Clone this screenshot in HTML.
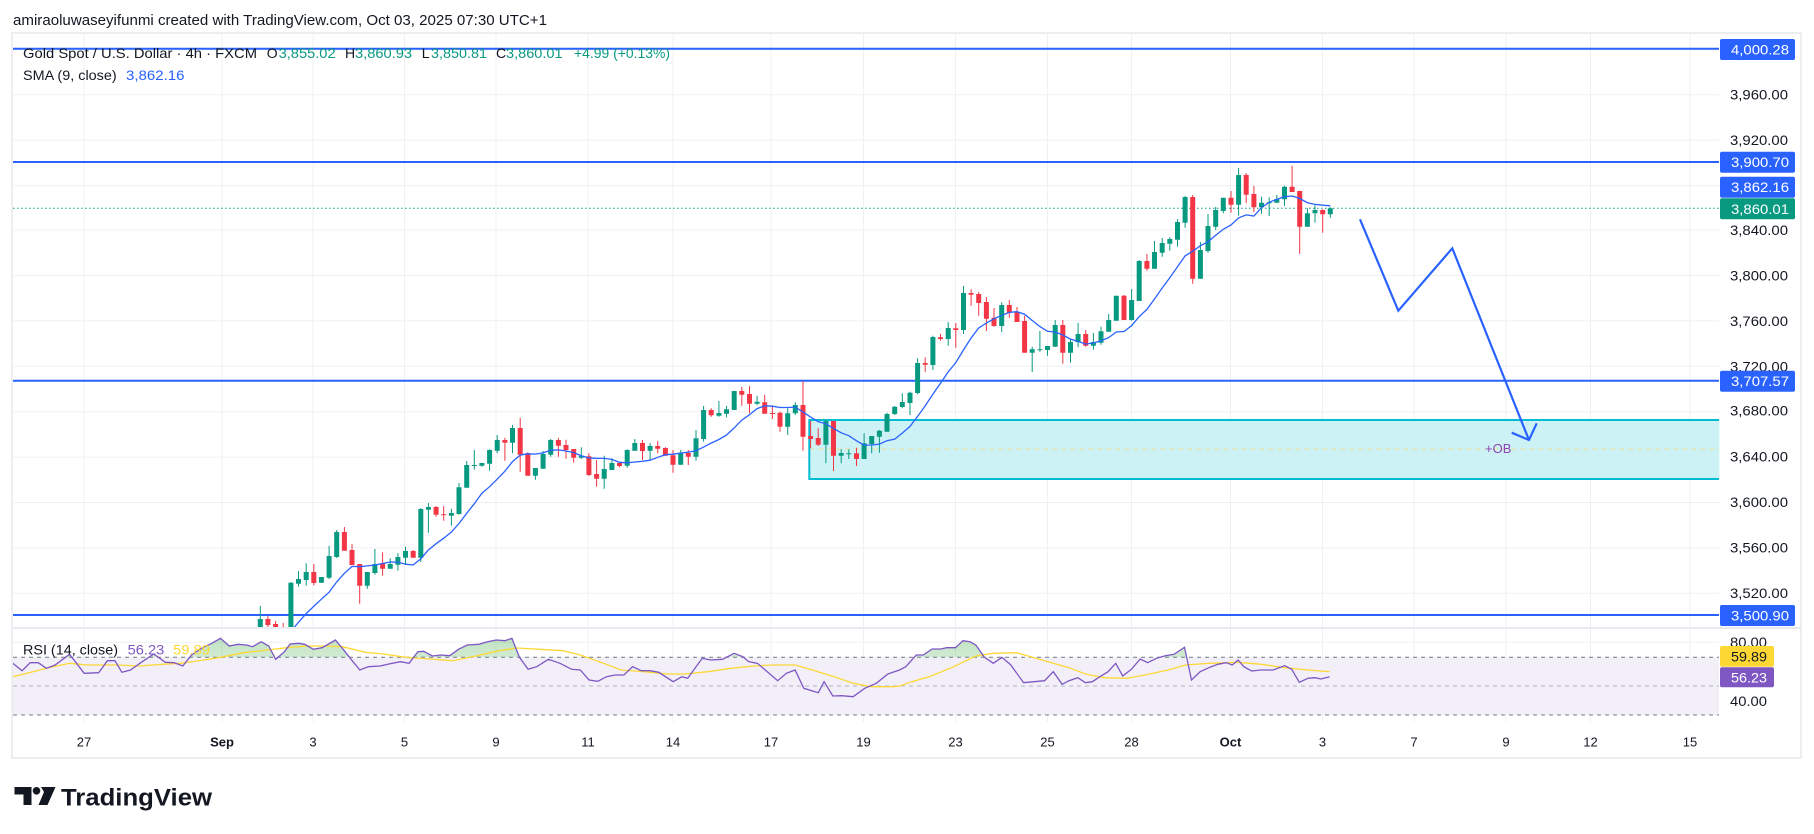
<!DOCTYPE html>
<html>
<head>
<meta charset="utf-8">
<style>
html,body{margin:0;padding:0;background:#fff;}
svg{display:block;}
text{font-family:"Liberation Sans",Arial,sans-serif;}
</style>
</head>
<body>
<svg xmlns="http://www.w3.org/2000/svg" width="1814" height="834" viewBox="0 0 1814 834">
<defs>
<clipPath id="pclip"><rect x="13" y="34" width="1706" height="593"/></clipPath>
<clipPath id="rclip"><rect x="13" y="629" width="1706" height="93"/></clipPath>
<clipPath id="gclip"><rect x="13" y="629" width="1706" height="28.3"/></clipPath>
<linearGradient id="gfill" x1="0" y1="0" x2="0" y2="1">
<stop offset="0" stop-color="#4caf50" stop-opacity="0.35"/>
<stop offset="1" stop-color="#4caf50" stop-opacity="0.06"/>
</linearGradient>
</defs>
<rect width="1814" height="834" fill="#fff"/>

<text x="13" y="25" font-size="15" fill="#131722" textLength="534" lengthAdjust="spacingAndGlyphs">amiraoluwaseyifunmi created with TradingView.com, Oct 03, 2025 07:30 UTC+1</text>

<rect x="12" y="33" width="1789" height="725" fill="none" stroke="#eceef2" stroke-width="2"/>
<line x1="13" y1="628" x2="1801" y2="628" stroke="#e0e3eb" stroke-width="1.5"/>

<!-- horizontal grid -->
<g stroke="#eef0f4" stroke-width="1">
<line x1="13" x2="1719" y1="49.7" y2="49.7"/>
<line x1="13" x2="1719" y1="94.8" y2="94.8"/>
<line x1="13" x2="1719" y1="140.2" y2="140.2"/>
<line x1="13" x2="1719" y1="185.6" y2="185.6"/>
<line x1="13" x2="1719" y1="230" y2="230"/>
<line x1="13" x2="1719" y1="275.4" y2="275.4"/>
<line x1="13" x2="1719" y1="320.8" y2="320.8"/>
<line x1="13" x2="1719" y1="366.2" y2="366.2"/>
<line x1="13" x2="1719" y1="411.7" y2="411.7"/>
<line x1="13" x2="1719" y1="457.1" y2="457.1"/>
<line x1="13" x2="1719" y1="502.5" y2="502.5"/>
<line x1="13" x2="1719" y1="547.9" y2="547.9"/>
<line x1="13" x2="1719" y1="593.3" y2="593.3"/>
<line x1="13" x2="1719" y1="642.3" y2="642.3"/>
<line x1="13" x2="1719" y1="701" y2="701"/>
</g>
<!-- vertical grid -->
<path stroke="#eef0f4" stroke-width="1" fill="none" d="M84 34V627M84 629V722M222 34V627M222 629V722M313 34V627M313 629V722M404.5 34V627M404.5 629V722M496 34V627M496 629V722M588 34V627M588 629V722M673 34V627M673 629V722M771 34V627M771 629V722M863.5 34V627M863.5 629V722M955.5 34V627M955.5 629V722M1047.5 34V627M1047.5 629V722M1131.5 34V627M1131.5 629V722M1230.5 34V627M1230.5 629V722M1322.5 34V627M1322.5 629V722M1414 34V627M1414 629V722M1506 34V627M1506 629V722M1590.5 34V627M1590.5 629V722M1690 34V627M1690 629V722"/>

<!-- OB box -->
<rect x="809.3" y="420" width="910" height="59" fill="#ccf2f6"/>
<line x1="809.3" x2="1719" y1="449" y2="449" stroke="#ece39a" stroke-width="1" stroke-dasharray="5,4"/>
<path d="M1719 420 H809.3 V479 H1719" fill="none" stroke="#00bcd4" stroke-width="2"/>
<text x="1485" y="453" font-size="13" fill="#8e44ad">+OB</text>

<!-- level lines -->
<g stroke="#2962ff" stroke-width="2">
<line x1="13" x2="1719" y1="48.7" y2="48.7"/>
<line x1="13" x2="1719" y1="162" y2="162"/>
<line x1="13" x2="1719" y1="380.7" y2="380.7"/>
<line x1="13" x2="1719" y1="615" y2="615"/>
</g>
<line x1="13" x2="1719" y1="208.3" y2="208.3" stroke="#089981" stroke-width="1" stroke-dasharray="1.5,2.5"/>

<!-- candles -->
<g clip-path="url(#pclip)">
<path fill="none" stroke="#089981" stroke-width="1" d="M260.3 606V635M290.9 582V640M298.5 571V586.7M306.2 563.3V585.7M321.4 577V583M329.1 545.7V579M336.7 530V558M367.3 572V588.7M374.9 549V574.7M390.2 558.3V568.7M397.9 553.3V570.7M405.5 546.7V563.7M420.8 508V562M428.4 503V532.7M451.4 508.7V525.7M459 483V514.7M466.7 461V487.7M474.3 450V469.7M481.9 463V466.7M489.6 449.3V470.7M497.2 435V453.3M512.5 425V453.3M535.4 468V479.7M543.1 451V468.7M550.7 439V456.7M581.3 447.3V459M604.2 455.7V488.7M611.9 458.3V470M627.2 449.3V467.7M634.8 439V450.7M650.1 443V460M680.7 450V464.7M696 430V460.7M703.6 406V441.7M718.9 401V416.7M726.5 406V417.3M734.2 391V410M757.1 395.7V405M787.7 408.3V435M795.3 402.3V415M825.9 420V463.3M841.2 449.3V463.3M848.8 449.3V459M864.1 433.3V459M871.7 436V453.3M879.4 430V452.7M887 412.7V431.7M894.7 406V415M902.3 393.3V408.3M910 391.7V415M917.6 358.3V394.3M932.9 335.7V370M948.2 322V345.7M963.5 286V334M1001.7 302.3V332M1032.2 346.7V372M1039.9 331V351.7M1047.5 346V355.7M1055.2 320V346.7M1070.5 338.7V362.7M1078.1 323V347.3M1093.4 333V349.7M1101 326.7V344.7M1108.7 314V331.7M1116.3 295.7V320.7M1131.6 289V320.7M1139.2 260V301M1154.5 241V268.7M1162.2 238V256.7M1169.8 237.3V250.7M1177.5 219.3V246.7M1185.1 196V227.7M1200.4 242V278.7M1208 214V252.7M1215.7 207V230M1223.3 197.7V213.3M1238.6 168V215.7M1261.5 196.7V213.7M1269.2 197.3V216M1276.8 195V202.7M1284.5 185.7V206M1307.4 208.3V226.7M1315 205.3V222.7M1330.3 207.3V217.7"/>
<path fill="#089981" d="M257.8 619h5v11h-5zM288.4 582.7h5v57.3h-5zM296 579h5v4.7h-5zM303.7 572h5v8h-5zM318.9 577h5v5.7h-5zM326.6 556h5v21.7h-5zM334.2 532h5v25h-5zM364.8 572h5v13.7h-5zM372.4 564h5v9h-5zM387.7 564h5v4.7h-5zM395.4 557h5v7.7h-5zM403 551h5v6.7h-5zM418.3 509h5v48.7h-5zM425.9 507h5v2.7h-5zM448.9 513h5v2.7h-5zM456.5 487.3h5v26.7h-5zM464.2 465h5v22.7h-5zM471.8 465h5v1h-5zM479.4 463h5v2.7h-5zM487.1 450h5v13.7h-5zM494.7 440h5v10.7h-5zM510 428h5v14.7h-5zM532.9 468h5v7.7h-5zM540.6 454h5v14.7h-5zM548.2 440h5v14.7h-5zM578.8 455.7h5v2h-5zM601.7 469h5v9.7h-5zM609.4 463h5v7h-5zM624.7 450h5v15.7h-5zM632.3 443h5v7.7h-5zM647.6 446h5v4.7h-5zM678.2 452.7h5v12h-5zM693.5 438.3h5v18.4h-5zM701.1 410h5v29h-5zM716.4 413h5v2.7h-5zM724 409.3h5v4.4h-5zM731.7 391h5v19h-5zM754.6 401.7h5v2h-5zM785.2 413.3h5v13.4h-5zM792.8 405h5v8.3h-5zM823.4 421h5v23.7h-5zM838.7 453h5v2.7h-5zM846.3 453.3h5v1h-5zM861.6 443.3h5v15.7h-5zM869.2 436h5v8h-5zM876.9 430.7h5v6h-5zM884.5 414h5v17.7h-5zM892.2 406.7h5v7.3h-5zM899.8 402h5v5h-5zM907.5 392.7h5v10.3h-5zM915.1 363h5v30h-5zM930.4 337h5v28h-5zM945.7 328h5v11h-5zM961 293h5v37h-5zM999.2 305h5v21h-5zM1029.7 349.3h5v3.4h-5zM1037.4 349.3h5v1h-5zM1045 346h5v4h-5zM1052.7 325h5v21.7h-5zM1068 342h5v10.7h-5zM1075.6 334h5v8.3h-5zM1090.9 342h5v3.7h-5zM1098.5 331.3h5v11.4h-5zM1106.2 320h5v11.7h-5zM1113.8 295.7h5v25h-5zM1129.1 300h5v20h-5zM1136.7 261h5v40h-5zM1152 252h5v16.7h-5zM1159.7 243h5v9.7h-5zM1167.3 239h5v4.7h-5zM1175 222h5v17.7h-5zM1182.6 197h5v25.7h-5zM1197.9 250h5v28.7h-5zM1205.5 226h5v25h-5zM1213.2 210h5v16.7h-5zM1220.8 197.7h5v13.3h-5zM1236.1 175h5v29.7h-5zM1259 202.7h5v4.6h-5zM1266.7 202.3h5v1h-5zM1274.3 199h5v3.7h-5zM1282 186.7h5v12.6h-5zM1304.9 213.3h5v13.4h-5zM1312.5 210h5v3.3h-5zM1327.8 208.3h5v6h-5z"/>
<path fill="none" stroke="#f23645" stroke-width="1" d="M267.9 616V627M275.6 621V630M283.2 623V630M313.8 564V585.3M344.4 527V550.7M352 544V565M359.7 564V603.7M382.6 552.3V575.7M413.2 550V557.7M436.1 506V516.7M443.7 506V520.7M504.9 437.7V460.7M520.2 417.7V471.7M527.8 452.3V475.7M558.4 437.7V456.7M566 439.7V458.7M573.7 449V462.7M588.9 453.3V476M596.6 460V486.7M619.5 462.3V467.3M642.5 440V460M657.7 440.7V453.3M665.4 447.3V455.7M673 450V472.7M688.3 450V465M711.2 408.3V416.7M741.8 386.7V405.7M749.5 386V413.3M764.7 394.7V413.7M772.4 405.3V419M780 411.7V431.7M803 381V450.7M810.6 421V448.3M818.2 428.3V446M833.5 421V471M856.5 447.7V466M925.2 357.3V372M940.5 334V340.7M955.8 323V347.7M971.1 289.3V305.7M978.7 292V315.7M986.4 297V331M994 308V326.7M1009.3 300V317.7M1017 307V322M1024.6 315.7V352.7M1062.8 320V363.7M1085.7 330V346.7M1124 295V320M1146.9 254V270.7M1192.7 195V283.7M1231 191V212.7M1246.2 173V203.3M1253.9 186V212M1292.1 165.7V192M1299.7 190.7V254M1322.7 209.3V232.7"/>
<path fill="#f23645" d="M265.4 619h5v6h-5zM273.1 624h5v4h-5zM280.7 627h5v1h-5zM311.3 572h5v11h-5zM341.9 532h5v18.7h-5zM349.5 550h5v15h-5zM357.2 564h5v21.7h-5zM380.1 563.3h5v5.4h-5zM410.7 551h5v6.7h-5zM433.6 507h5v7.7h-5zM441.2 514.3h5v1h-5zM502.4 440h5v2.7h-5zM517.7 428h5v26.7h-5zM525.3 453.3h5v22.4h-5zM555.9 440h5v5.7h-5zM563.5 445h5v5h-5zM571.2 449h5v8.7h-5zM586.4 456.3h5v18.7h-5zM594.1 474h5v4.7h-5zM617 463h5v3h-5zM640 443h5v8h-5zM655.2 446h5v2.7h-5zM662.9 448h5v7.7h-5zM670.5 455.3h5v9.4h-5zM685.8 453h5v3.7h-5zM708.7 410h5v5.3h-5zM739.3 391h5v3.7h-5zM747 394h5v9.7h-5zM762.2 402.3h5v11.4h-5zM769.9 413h5v1h-5zM777.5 412.7h5v14h-5zM800.5 405h5v31.7h-5zM808.1 436h5v3h-5zM815.7 438h5v6.7h-5zM831 421h5v34.7h-5zM854 453.3h5v5.7h-5zM922.7 363h5v1.7h-5zM938 337.3h5v1.7h-5zM953.3 328.3h5v1.7h-5zM968.6 293h5v1.7h-5zM976.2 294h5v9h-5zM983.9 302h5v16.7h-5zM991.5 317.7h5v8.3h-5zM1006.8 305h5v8h-5zM1014.5 312h5v10h-5zM1022.1 321h5v31.7h-5zM1060.3 325h5v27.7h-5zM1083.2 334h5v11.7h-5zM1121.5 295.7h5v24.3h-5zM1144.4 261h5v7.7h-5zM1190.2 197h5v81.7h-5zM1228.5 197.7h5v7h-5zM1243.7 175h5v19.7h-5zM1251.4 194h5v13.3h-5zM1289.6 186.7h5v5.3h-5zM1297.2 191h5v35.7h-5zM1320.2 210h5v4.3h-5z"/>
<!-- SMA -->
<path fill="none" stroke="#2962ff" stroke-width="1.3" d="M293.3 628.3L306.7 613L321.4 599.2L329.1 592.2L336.7 581.9L344.4 573.3L352 566.4L359.7 566.7L367.3 565.9L374.9 565L382.6 563.5L390.2 562L397.9 562.1L405.5 564.2L413.2 565L420.8 558.8L428.4 550L436.1 543.7L443.7 538.2L451.4 532L459 523.5L466.7 513.3L474.3 503.7L481.9 493.2L489.6 486.7L497.2 479.2L504.9 471.2L512.5 461.6L520.2 455.1L527.8 453.8L535.4 454.1L543.1 452.9L550.7 450.3L558.4 449.9L566 451L573.7 452.6L581.3 455.7L588.9 458L596.6 458.3L604.2 458.4L611.9 459.4L619.5 462.3L627.2 462.8L634.8 462L642.5 461.3L650.1 460.2L657.7 457.3L665.4 454.7L673 454.2L680.7 453.1L688.3 452.1L696 450.8L703.6 447.1L711.2 443.1L718.9 439.5L726.5 435.1L734.2 427.9L741.8 420.1L749.5 414.7L757.1 408.6L764.7 405.8L772.4 406.2L780 407.5L787.7 407.5L795.3 407.1L803 412.1L810.6 417.1L818.2 421.6L825.9 423.8L833.5 428.4L841.2 432.8L848.8 435.7L856.5 440.8L864.1 445.1L871.7 445L879.4 444.1L887 440.7L894.7 439.1L902.3 433.1L910 426.4L917.6 416.4L925.2 405.9L932.9 394.1L940.5 383.3L948.2 371.9L955.8 362.6L963.5 349.9L971.1 338L978.7 328L986.4 323.1L994 318.8L1001.7 315.3L1009.3 312.4L1017 311.7L1024.6 314.2L1032.2 320.5L1039.9 326.6L1047.5 331.3L1055.2 332L1062.8 335L1070.5 339.1L1078.1 341.4L1085.7 344.1L1093.4 342.9L1101 340.9L1108.7 337.6L1116.3 332L1124 331.5L1131.6 325.6L1139.2 316.6L1146.9 309.4L1154.5 299L1162.2 288L1169.8 277.7L1177.5 266.8L1185.1 255.9L1192.7 251.3L1200.4 245.7L1208 241.8L1215.7 235.3L1223.3 229.3L1231 225L1238.6 217.9L1246.2 214.9L1253.9 216L1261.5 207.6L1269.2 202.3L1276.8 199.3L1284.5 196.7L1292.1 196L1299.7 198.5L1307.4 202.7L1315 204.4L1322.7 205.2L1330.3 205.8"/>
</g>

<!-- arrow -->
<polyline points="1360,219.3 1398.3,310.7 1452.3,248.3 1529,440" fill="none" stroke="#2962ff" stroke-width="2.2" stroke-linejoin="miter"/>
<polyline points="1511.7,432.7 1529,440 1536.7,423.3" fill="none" stroke="#2962ff" stroke-width="2.2"/>

<!-- RSI pane -->
<rect x="13" y="657.3" width="1706" height="57.7" fill="#f2eff9"/>
<line x1="13" x2="1719" y1="657.3" y2="657.3" stroke="#787b86" stroke-width="1" stroke-dasharray="4,4"/>
<line x1="13" x2="1719" y1="686" y2="686" stroke="#b2b5be" stroke-width="1" stroke-dasharray="4,4"/>
<line x1="13" x2="1719" y1="715" y2="715" stroke="#787b86" stroke-width="1" stroke-dasharray="4,4"/>
<path clip-path="url(#gclip)" fill="url(#gfill)" d="M12.8 663.3L22.1 670.7L30.2 662.7L38.3 662.7L46.4 668.3L55.1 665L69.6 654.3L84.2 673.3L98.7 672.7L107.4 660.7L114.9 660.7L121.9 672.3L130.6 670L142.2 661.7L153.8 654L165.4 662.3L174.1 662.7L182.8 666L191.5 655L203.1 647.3L211.8 643.3L220.5 638.3L229.2 646L237.9 644.3L246.6 645L252.5 646.7L261.2 641.7L268.7 646L275.7 659.3L284.4 651.7L290.2 644L298.9 643.3L304.7 644.3L313.4 649.3L322.1 647.7L335.4 640L342.4 648.3L351.1 659.3L359.8 670L368.5 666.7L380.1 666L388.8 664L400.4 661.7L409.1 663.3L417.9 651.7L423.7 651.3L432.4 656L441.1 655L449.8 655.7L458.5 649.3L467.2 645L478.8 644.3L487.5 641.7L496.2 640L504.9 640.7L511.9 638.3L519.4 657.3L528.1 669.3L536.8 666.7L548.4 659.3L560 663.3L571.6 669.3L580.3 670L589.1 680L597.8 681.3L606.5 676.7L615.2 675L623.9 675L632.6 666.7L641.3 670.7L650 670.7L658.7 672.3L673.2 681.7L681.9 676.7L687.7 678.3L702.2 658.3L710.9 660L722.5 659.3L734.1 653.3L742.8 656.7L748.7 661.7L757.4 663.3L766.1 670.7L777.7 680.7L786.4 673.3L795.1 670L803.8 688.3L818.3 692.7L824.1 681.7L832.8 696L841.5 695.7L853.1 696.7L864.7 688.3L876.3 683.3L887.9 674L899.5 670L905.8 666.7L916.3 655L923.3 655L932.1 649L940.8 649L946.6 647.7L955.4 647.7L963 640.7L970 641.7L975.8 645L984.5 657.3L993.3 663.3L1002 657.3L1010.8 665L1023.6 682.7L1034.1 681.7L1044.6 680.7L1053.3 671.7L1062.1 684.3L1069 680.7L1077.8 677.7L1085.4 682.7L1092.4 681.7L1099.9 676.7L1108.1 671.7L1115.7 663.3L1122.7 676L1131.4 669.3L1140.2 659L1147.7 662.7L1156.5 658.3L1165.2 655.7L1174 654.3L1184.5 647.3L1191.5 680L1200.2 671.7L1208.9 667.7L1217.7 664.3L1226.4 662.7L1232.3 665L1238.1 660L1243.9 666.7L1251.5 671L1261.4 670L1273.1 670L1284.7 665.7L1291.7 669.3L1299.3 682.3L1308 678.3L1315 677.7L1320.9 679L1329.6 676.7L1329.6 657.3L12.8 657.3Z"/>
<path clip-path="url(#rclip)" fill="none" stroke="#fdd835" stroke-width="1.3" d="M12.8 676.7L29 672.7L46.4 668.3L69.6 663.3L87.1 665L116.1 665L139.3 666L162.5 664.3L179.9 663.3L197.3 661L220.5 657.3L243.7 652.7L267 650L290.2 647.3L307.6 646L325 646L342.4 646.7L365.6 652.3L383 654L406.2 657.3L429.5 659L452.7 660.7L475.9 656L499.1 650.7L516.5 648L539.7 649.3L562.9 650.7L580.3 655L603.6 663.3L621 670L644.2 671.7L667.4 674L684.8 674L708 671.7L731.2 668.3L754.5 666L771.9 665L795.1 665L812.5 670L835.7 677.3L853.1 683.3L870.5 686.7L893.7 686.7L900 686L911.7 681.7L929.1 676.7L952.5 667.3L975.8 656L993.3 653.3L1016.6 652.7L1034.1 657.7L1051.6 662.7L1069 667.7L1086.5 674.3L1104 677.7L1127.3 678.3L1144.8 675L1168.1 670L1185.6 665L1208.9 663.3L1238.1 662.3L1261.4 664.3L1284.7 667.7L1308 670L1329.6 671.7"/>
<path clip-path="url(#rclip)" fill="none" stroke="#7e57c2" stroke-width="1.3" d="M12.8 663.3L22.1 670.7L30.2 662.7L38.3 662.7L46.4 668.3L55.1 665L69.6 654.3L84.2 673.3L98.7 672.7L107.4 660.7L114.9 660.7L121.9 672.3L130.6 670L142.2 661.7L153.8 654L165.4 662.3L174.1 662.7L182.8 666L191.5 655L203.1 647.3L211.8 643.3L220.5 638.3L229.2 646L237.9 644.3L246.6 645L252.5 646.7L261.2 641.7L268.7 646L275.7 659.3L284.4 651.7L290.2 644L298.9 643.3L304.7 644.3L313.4 649.3L322.1 647.7L335.4 640L342.4 648.3L351.1 659.3L359.8 670L368.5 666.7L380.1 666L388.8 664L400.4 661.7L409.1 663.3L417.9 651.7L423.7 651.3L432.4 656L441.1 655L449.8 655.7L458.5 649.3L467.2 645L478.8 644.3L487.5 641.7L496.2 640L504.9 640.7L511.9 638.3L519.4 657.3L528.1 669.3L536.8 666.7L548.4 659.3L560 663.3L571.6 669.3L580.3 670L589.1 680L597.8 681.3L606.5 676.7L615.2 675L623.9 675L632.6 666.7L641.3 670.7L650 670.7L658.7 672.3L673.2 681.7L681.9 676.7L687.7 678.3L702.2 658.3L710.9 660L722.5 659.3L734.1 653.3L742.8 656.7L748.7 661.7L757.4 663.3L766.1 670.7L777.7 680.7L786.4 673.3L795.1 670L803.8 688.3L818.3 692.7L824.1 681.7L832.8 696L841.5 695.7L853.1 696.7L864.7 688.3L876.3 683.3L887.9 674L899.5 670L905.8 666.7L916.3 655L923.3 655L932.1 649L940.8 649L946.6 647.7L955.4 647.7L963 640.7L970 641.7L975.8 645L984.5 657.3L993.3 663.3L1002 657.3L1010.8 665L1023.6 682.7L1034.1 681.7L1044.6 680.7L1053.3 671.7L1062.1 684.3L1069 680.7L1077.8 677.7L1085.4 682.7L1092.4 681.7L1099.9 676.7L1108.1 671.7L1115.7 663.3L1122.7 676L1131.4 669.3L1140.2 659L1147.7 662.7L1156.5 658.3L1165.2 655.7L1174 654.3L1184.5 647.3L1191.5 680L1200.2 671.7L1208.9 667.7L1217.7 664.3L1226.4 662.7L1232.3 665L1238.1 660L1243.9 666.7L1251.5 671L1261.4 670L1273.1 670L1284.7 665.7L1291.7 669.3L1299.3 682.3L1308 678.3L1315 677.7L1320.9 679L1329.6 676.7"/>

<!-- legends -->
<text x="23" y="58" font-size="14" fill="#131722" textLength="234" lengthAdjust="spacingAndGlyphs">Gold Spot / U.S. Dollar · 4h · FXCM</text>
<g font-size="14">
<text x="266.7" y="58" fill="#131722">O</text><text x="278.6" y="58" fill="#089981" textLength="57" lengthAdjust="spacingAndGlyphs">3,855.02</text>
<text x="345" y="58" fill="#131722">H</text><text x="355" y="58" fill="#089981" textLength="57" lengthAdjust="spacingAndGlyphs">3,860.93</text>
<text x="421.7" y="58" fill="#131722">L</text><text x="431" y="58" fill="#089981" textLength="56" lengthAdjust="spacingAndGlyphs">3,850.81</text>
<text x="496" y="58" fill="#131722">C</text><text x="506" y="58" fill="#089981" textLength="56.6" lengthAdjust="spacingAndGlyphs">3,860.01</text>
<text x="574" y="58" fill="#089981" textLength="96" lengthAdjust="spacingAndGlyphs">+4.99 (+0.13%)</text>
<text x="23" y="80" fill="#131722" textLength="93.7" lengthAdjust="spacingAndGlyphs">SMA (9, close)</text>
<text x="126" y="80" fill="#2962ff" textLength="58.5" lengthAdjust="spacingAndGlyphs">3,862.16</text>
<text x="23" y="654.5" fill="#131722" textLength="95" lengthAdjust="spacingAndGlyphs">RSI (14, close)</text>
<text x="127.7" y="654.5" fill="#7e57c2" textLength="36.5" lengthAdjust="spacingAndGlyphs">56.23</text>
<text x="173" y="654.5" fill="#fdd835" textLength="37" lengthAdjust="spacingAndGlyphs">59.89</text>
</g>

<!-- price axis labels -->
<g font-size="14" fill="#131722">
<text x="1730" y="99.5" textLength="58" lengthAdjust="spacingAndGlyphs">3,960.00</text>
<text x="1730" y="145" textLength="58" lengthAdjust="spacingAndGlyphs">3,920.00</text>
<text x="1730" y="235" textLength="58" lengthAdjust="spacingAndGlyphs">3,840.00</text>
<text x="1730" y="280.5" textLength="58" lengthAdjust="spacingAndGlyphs">3,800.00</text>
<text x="1730" y="326" textLength="58" lengthAdjust="spacingAndGlyphs">3,760.00</text>
<text x="1730" y="371.5" textLength="58" lengthAdjust="spacingAndGlyphs">3,720.00</text>
<text x="1730" y="415.5" textLength="58" lengthAdjust="spacingAndGlyphs">3,680.00</text>
<text x="1730" y="461.5" textLength="58" lengthAdjust="spacingAndGlyphs">3,640.00</text>
<text x="1730" y="507" textLength="58" lengthAdjust="spacingAndGlyphs">3,600.00</text>
<text x="1730" y="552.5" textLength="58" lengthAdjust="spacingAndGlyphs">3,560.00</text>
<text x="1730" y="598" textLength="58" lengthAdjust="spacingAndGlyphs">3,520.00</text>
<text x="1730" y="647" textLength="37" lengthAdjust="spacingAndGlyphs">80.00</text>
<text x="1730" y="706" textLength="37" lengthAdjust="spacingAndGlyphs">40.00</text>
</g>
<g font-size="14" fill="#fff">
<rect x="1720" y="39" width="75" height="21" rx="2" fill="#2962ff"/><text x="1731" y="54.5" textLength="58" lengthAdjust="spacingAndGlyphs">4,000.28</text>
<rect x="1720" y="151.7" width="75" height="21" rx="2" fill="#2962ff"/><text x="1731" y="167.2" textLength="58" lengthAdjust="spacingAndGlyphs">3,900.70</text>
<rect x="1720" y="176.7" width="75" height="21" rx="2" fill="#2962ff"/><text x="1731" y="192.2" textLength="58" lengthAdjust="spacingAndGlyphs">3,862.16</text>
<rect x="1720" y="198.3" width="75" height="21" rx="2" fill="#089981"/><text x="1731" y="213.8" textLength="58" lengthAdjust="spacingAndGlyphs">3,860.01</text>
<rect x="1720" y="370.7" width="75" height="21" rx="2" fill="#2962ff"/><text x="1731" y="386.2" textLength="58" lengthAdjust="spacingAndGlyphs">3,707.57</text>
<rect x="1720" y="605" width="75" height="21" rx="2" fill="#2962ff"/><text x="1731" y="620.5" textLength="58" lengthAdjust="spacingAndGlyphs">3,500.90</text>
<rect x="1720" y="646" width="54" height="20.7" rx="2" fill="#fdd835"/><text x="1731" y="661.3" fill="#131722" textLength="36" lengthAdjust="spacingAndGlyphs">59.89</text>
<rect x="1720" y="667.3" width="54" height="20" rx="2" fill="#7e57c2"/><text x="1731" y="682.3" textLength="36" lengthAdjust="spacingAndGlyphs">56.23</text>
</g>

<!-- time axis -->
<g font-size="13" fill="#131722" text-anchor="middle">
<text x="84" y="746.5">27</text>
<text x="222" y="746.5" font-weight="bold">Sep</text>
<text x="313" y="746.5">3</text>
<text x="404.5" y="746.5">5</text>
<text x="496" y="746.5">9</text>
<text x="588" y="746.5">11</text>
<text x="673" y="746.5">14</text>
<text x="771" y="746.5">17</text>
<text x="863.5" y="746.5">19</text>
<text x="955.5" y="746.5">23</text>
<text x="1047.5" y="746.5">25</text>
<text x="1131.5" y="746.5">28</text>
<text x="1230.5" y="746.5" font-weight="bold">Oct</text>
<text x="1322.5" y="746.5">3</text>
<text x="1414" y="746.5">7</text>
<text x="1506" y="746.5">9</text>
<text x="1590.5" y="746.5">12</text>
<text x="1690" y="746.5">15</text>
</g>

<!-- TradingView logo -->
<g fill="#131722">
<path d="M14.5 787 H31.5 V805 H23.5 V794.5 H14.5 Z"/>
<circle cx="36.5" cy="790.8" r="3.8"/>
<path d="M41 787 H55.5 L47.5 805 H38.5 L44 792 Z"/>
<text x="61" y="805.5" font-size="24" font-weight="bold" textLength="151" lengthAdjust="spacingAndGlyphs">TradingView</text>
</g>
</svg>
</body>
</html>
